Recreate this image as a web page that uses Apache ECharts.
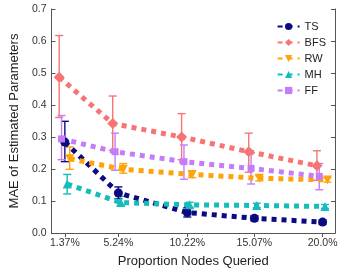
<!DOCTYPE html>
<html><head><meta charset="utf-8">
<script src="https://cdn.jsdelivr.net/npm/echarts@6/dist/echarts.min.js"></script>
<style>html,body{margin:0;padding:0;background:#fff}#c{width:341px;height:273px}</style>
</head><body><div id="c"></div>
<script>
const xValues = [1.37, 5.24, 10.22, 15.07, 20.0];
const xTickLabels = ['1.37%', '5.24%', '10.22%', '15.07%', '20.0%'];
const yTicks = [0, 0.1, 0.2, 0.3, 0.4, 0.5, 0.6, 0.7];
const seriesNames = ['TS', 'BFS', 'RW', 'MH', 'FF'];
const tsMean = [0.284, 0.125, 0.064, 0.046, 0.034];
const tsLow  = [0.223, 0.107, 0.050, 0.038, 0.027];
const tsHigh = [0.349, 0.144, 0.079, 0.054, 0.041];
const bfsMean = [0.487, 0.342, 0.300, 0.254, 0.210];
const bfsLow  = [0.361, 0.258, 0.229, 0.190, 0.165];
const bfsHigh = [0.617, 0.428, 0.373, 0.312, 0.257];
const rwMean = [0.232, 0.199, 0.183, 0.171, 0.166];
const rwLow  = [0.199, 0.187, 0.173, 0.163, 0.159];
const rwHigh = [0.269, 0.217, 0.193, 0.179, 0.173];
const mhMean = [0.153, 0.095, 0.088, 0.086, 0.083];
const mhLow  = [0.122, 0.085, 0.080, 0.079, 0.077];
const mhHigh = [0.183, 0.115, 0.096, 0.093, 0.089];
const ffMean = [0.294, 0.254, 0.223, 0.202, 0.177];
const ffLow  = [0.229, 0.196, 0.168, 0.153, 0.135];
const ffHigh = [0.367, 0.312, 0.275, 0.251, 0.217];

const means = [tsMean, bfsMean, rwMean, mhMean, ffMean];
const lows = [tsLow, bfsLow, rwLow, mhLow, ffLow];
const highs = [tsHigh, bfsHigh, rwHigh, mhHigh, ffHigh];
// horizontal dodge (x-units) so overlapping error bars separate
const dodge = [0, -0.41, 0.35, 0.17, -0.24];
const colors = ['#0a0a82', '#f87474', '#ffa30a', '#14bcbc', '#c57cf8'];
const symbols = ['circle', 'diamond', 'path://M0,0 L10,0 L5,10 Z', 'triangle', 'rect'];
const symbolSizes = [9, 11, 9, 9, 7];

const series = [];
seriesNames.forEach((name, i) => {
  series.push({
    name: name, type: 'line', z: 3,
    data: xValues.map((x, k) => [x + dodge[i], means[i][k]]),
    symbol: symbols[i], symbolSize: symbolSizes[i], showSymbol: true,
    itemStyle: { color: colors[i] },
    lineStyle: { color: colors[i], width: 5, type: [5, 5], cap: 'butt' },
    animation: false
  });
  series.push({
    name: name, type: 'custom', z: 2,
    data: xValues.map((x, k) => [x + dodge[i], lows[i][k], highs[i][k]]),
    renderItem: function (params, api) {
      const lo = api.coord([api.value(0), api.value(1)]);
      const hi = api.coord([api.value(0), api.value(2)]);
      const hw = 4;
      const st = { stroke: colors[i], lineWidth: 1.4, fill: null };
      return { type: 'group', children: [
        { type: 'line', shape: { x1: lo[0], y1: lo[1], x2: hi[0], y2: hi[1] }, style: st },
        { type: 'line', shape: { x1: lo[0] - hw, y1: lo[1], x2: lo[0] + hw, y2: lo[1] }, style: st },
        { type: 'line', shape: { x1: hi[0] - hw, y1: hi[1], x2: hi[0] + hw, y2: hi[1] }, style: st }
      ]};
    },
    encode: { x: 0, y: [1, 2] },
    animation: false
  });
});

const axisLineStyle = { color: '#555', width: 1 };
const chart = echarts.init(document.getElementById('c'), null, { renderer: 'canvas' });
chart.setOption({
  backgroundColor: '#fff',
  animation: false,
  grid: { left: 38, right: 6, top: 9, bottom: 35 },
  legend: {
    data: seriesNames, orient: 'vertical', right: 10, top: 16,
    itemWidth: 22, itemHeight: 9, itemGap: 5,
    textStyle: { fontSize: 11, color: '#222', fontFamily: 'Liberation Sans' }
  },
  xAxis: [{
    type: 'value', min: 0.404, max: 20.897,
    name: 'Proportion Nodes Queried', nameLocation: 'middle', nameGap: 22,
    nameTextStyle: { fontSize: 13, color: '#222', fontFamily: 'Liberation Sans' },
    axisLine: { lineStyle: axisLineStyle },
    axisTick: { show: true, customValues: xValues, length: 3, inside: false, lineStyle: axisLineStyle },
    axisLabel: { customValues: xValues, fontSize: 10.5, color: '#333', margin: 5, fontFamily: 'Liberation Sans',
      formatter: v => xTickLabels[xValues.findIndex(x => Math.abs(x - v) < 1e-6)] },
    splitLine: { show: false }
  }, {
    type: 'value', position: 'top', min: 0.404, max: 20.897,
    axisLine: { show: true, lineStyle: axisLineStyle },
    axisTick: { show: true, customValues: xValues, inside: true, length: 4, lineStyle: axisLineStyle },
    axisLabel: { show: false }, splitLine: { show: false }
  }],
  yAxis: [{
    type: 'value', min: 0, max: 0.7, interval: 0.1,
    name: 'MAE of Estimated Parameters', nameLocation: 'middle', nameGap: 25,
    nameTextStyle: { fontSize: 13, color: '#222', fontFamily: 'Liberation Sans' },
    axisLine: { show: true, lineStyle: axisLineStyle },
    axisTick: { show: true, inside: true, length: 4, lineStyle: axisLineStyle },
    axisLabel: { fontSize: 10.5, color: '#333', margin: 5, fontFamily: 'Liberation Sans',
      formatter: v => v.toFixed(1) },
    splitLine: { show: false }
  }, {
    type: 'value', position: 'right', min: 0, max: 0.7, interval: 0.1,
    axisLine: { show: true, lineStyle: axisLineStyle },
    axisTick: { show: true, inside: true, length: 4, lineStyle: axisLineStyle },
    axisLabel: { show: false }, splitLine: { show: false }
  }],
  series: series
});
</script></body></html>
